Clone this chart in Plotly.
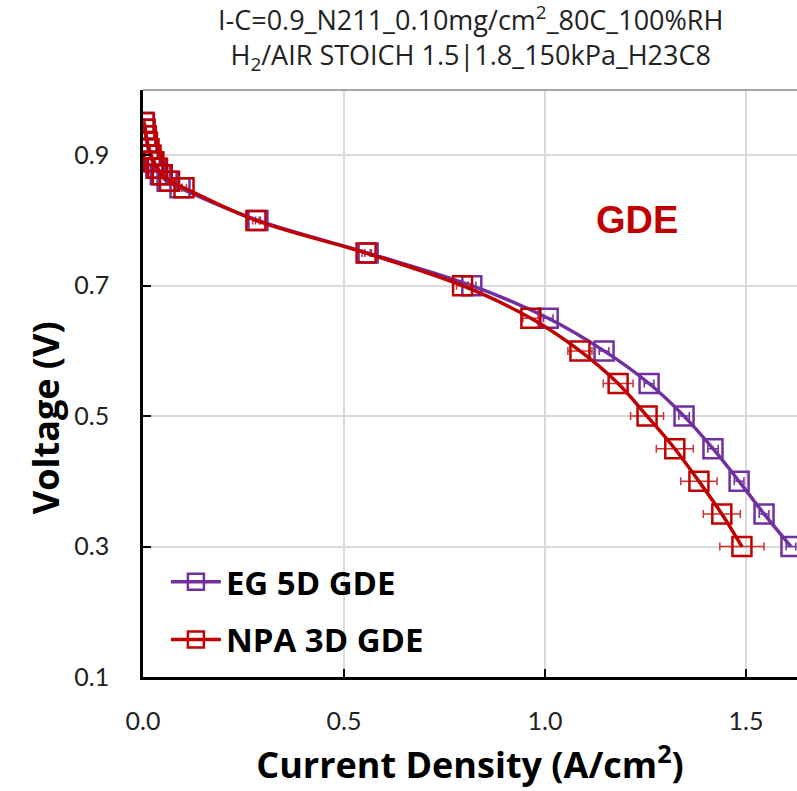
import plotly.graph_objects as go

# NPA 3D GDE (red)
npa_v = [0.95, 0.94, 0.93, 0.92, 0.91, 0.90, 0.89, 0.88, 0.87, 0.86, 0.85,
         0.80, 0.75, 0.70, 0.65, 0.60, 0.55, 0.50, 0.45, 0.40, 0.35, 0.30]
npa_i = [0.003, 0.005, 0.008, 0.011, 0.015, 0.020, 0.027, 0.036, 0.048, 0.066, 0.102,
         0.281, 0.555, 0.795, 0.965, 1.087, 1.182, 1.254, 1.323, 1.383, 1.440, 1.490]
npa_err = [0.002, 0.002, 0.002, 0.002, 0.002, 0.002, 0.003, 0.003, 0.004, 0.004, 0.006,
           0.008, 0.010, 0.015, 0.020, 0.030, 0.037, 0.041, 0.046, 0.045, 0.046, 0.055]

# EG 5D GDE (purple)
eg_v = [0.95, 0.94, 0.93, 0.92, 0.91, 0.90, 0.89, 0.88, 0.87, 0.86, 0.85,
        0.80, 0.75, 0.70, 0.65, 0.60, 0.55, 0.50, 0.45, 0.40, 0.35, 0.30]
eg_i = [0.003, 0.005, 0.007, 0.010, 0.013, 0.018, 0.024, 0.032, 0.043, 0.060, 0.092,
        0.286, 0.560, 0.818, 1.008, 1.147, 1.259, 1.346, 1.418, 1.483, 1.545, 1.612]
eg_err = [0.002, 0.002, 0.002, 0.002, 0.002, 0.002, 0.002, 0.003, 0.003, 0.004, 0.005,
          0.006, 0.008, 0.010, 0.012, 0.012, 0.012, 0.013, 0.013, 0.012, 0.012, 0.012]

x_ticks = [0.0, 0.5, 1.0, 1.5]
y_ticks = [0.1, 0.3, 0.5, 0.7, 0.9]

RED = "#C00000"
PURPLE = "#7030A0"
FONT = "Open Sans"
TICKFONT = "Lato"

fig = go.Figure()

fig.add_trace(go.Scatter(
    x=eg_i, y=eg_v, name="EG 5D GDE", mode="lines+markers", legendgroup="eg",
    line=dict(color=PURPLE, width=3.5, shape="spline", smoothing=1.0),
    marker=dict(symbol="square-open", size=19, color=PURPLE, line=dict(width=2.5, color=PURPLE)),
    error_x=dict(type="data", array=eg_err, visible=True, color=PURPLE, thickness=1.5, width=4),
))
fig.add_trace(go.Scatter(
    x=npa_i, y=npa_v, name="NPA 3D GDE", mode="lines+markers", legendgroup="npa",
    line=dict(color=RED, width=3.5, shape="spline", smoothing=1.0),
    marker=dict(symbol="square-open", size=19, color=RED, line=dict(width=2.5, color=RED)),
    error_x=dict(type="data", array=npa_err, visible=True, color="#D03030", thickness=1.5, width=4),
))

fig.add_annotation(x=1.23, y=0.80, xref="x", yref="y", text="<b>GDE</b>", showarrow=False,
                   font=dict(family="Liberation Sans", size=38, color=RED))

# two-line title
fig.add_annotation(
    x=0.5, y=1, xref="paper", yref="paper", xanchor="center", yanchor="middle", yshift=52,
    text="I-C=0.9_N211_0.10mg/cm<sup>2</sup>_80C_100%RH<br>H<sub>2</sub>/AIR STOICH 1.5|1.8_150kPa_H23C8",
    showarrow=False, font=dict(family=FONT, size=27, color="#222222"),
)

# y-axis title (placed like the reference, slightly below the plot centre)
fig.add_annotation(
    x=0, y=0.441, xref="paper", yref="paper", xanchor="center", yanchor="middle", xshift=-98,
    text="<b>Voltage (V)</b>", textangle=-90, showarrow=False,
    font=dict(family=FONT, size=36, color="black"),
)

# light gray top border of plot area
fig.add_shape(type="line", xref="paper", yref="paper", x0=0, x1=1, y0=1, y1=1,
              line=dict(color="#A6A6A6", width=2))

fig.update_layout(
    width=797, height=791,
    margin=dict(l=143, r=0, t=90, b=114),
    paper_bgcolor="white", plot_bgcolor="white",
    showlegend=True,
    legend=dict(x=0.035, y=0.21, xanchor="left", yanchor="top",
                font=dict(family=FONT, size=33, color="black", weight="bold"),
                bgcolor="rgba(0,0,0,0)", tracegroupgap=12, itemwidth=50),
    xaxis=dict(
        range=[0, 1.627], tickvals=x_ticks, tickformat=".1f",
        showgrid=True, gridcolor="#D9D9D9", gridwidth=1.5,
        showline=True, linecolor="black", linewidth=2.5,
        ticks="inside", ticklen=8, tickwidth=2, tickcolor="black",
        tickfont=dict(family=TICKFONT, size=25, color="#222222"),
        ticklabelstandoff=20,
        title=dict(text="<b>Current Density (A/cm<sup>2</sup>)</b>", font=dict(family=FONT, size=36, color="black"), standoff=20),
        zeroline=False,
    ),
    yaxis=dict(
        range=[0.1, 1.0], tickvals=y_ticks, tickformat=".1f",
        showgrid=True, gridcolor="#D9D9D9", gridwidth=1.5,
        showline=True, linecolor="black", linewidth=2.5,
        ticks="inside", ticklen=8, tickwidth=2, tickcolor="black",
        tickfont=dict(family=TICKFONT, size=25, color="#222222"),
        ticklabelstandoff=26,
        zeroline=False,
    ),
)

fig.write_html("out.html")
